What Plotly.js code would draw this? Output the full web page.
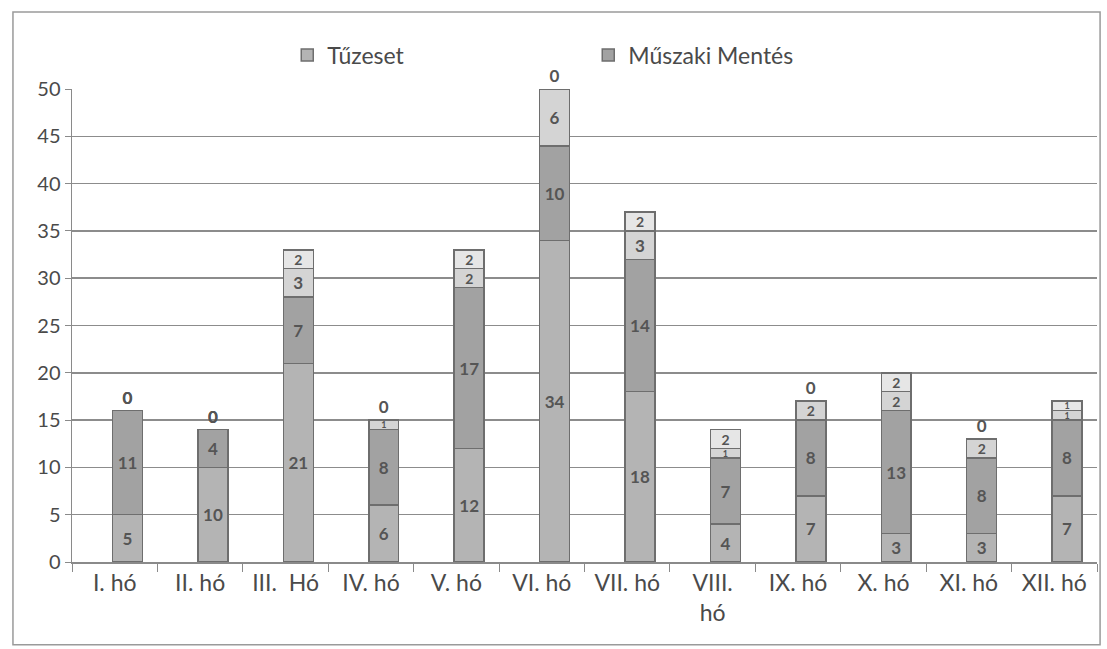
<!DOCTYPE html>
<html>
<head>
<meta charset="utf-8">
<script src="https://cdn.plot.ly/plotly-3.0.1.min.js"></script>
<style>html,body{margin:0;padding:0;background:#fff;}#chart{width:1107px;height:649px;}</style>
</head>
<body>
<div id="chart"></div>
<script>
var categories = ['I. hó','II. hó','III.  Hó','IV. hó','V. hó','VI. hó','VII. hó','VIII.<br>hó','IX. hó','X. hó','XI. hó','XII. hó'];
var tuzeset = [5,10,21,6,12,34,18,4,7,3,3,7];
var muszakiMentes = [11,4,7,8,17,10,14,7,8,13,8,8];
var sorozat3 = [0,0,3,1,2,6,3,1,2,2,2,1];
var sorozat4 = [0,0,2,0,2,0,2,2,0,2,0,1];
var yTicks = [0,5,10,15,20,25,30,35,40,45,50];

var txtColor = '#4a4a4a';
var fontFam = 'Lato, "Open Sans", sans-serif';

function mk(name, vals, fill, show) {
  return {
    type: 'bar', name: name, x: categories, y: vals,
    text: vals.map(String),
    textposition: vals.map(function(v){return v === 0 ? 'outside' : 'inside';}),
    insidetextanchor: 'middle',
    textangle: 0,
    constraintext: 'none',
    cliponaxis: false,
    textfont: {
      family: fontFam, color: '#555', weight: 'bold',
      size: vals.map(function(v){return v >= 3 || v === 0 ? 17 : (v === 2 ? 14 : 9);})
    },
    width: 0.35, offset: -0.025,
    marker: {color: fill, line: {color: '#6e6e6e', width: 1.5}},
    showlegend: show
  };
}

var data = [
  mk('Tűzeset', tuzeset, '#b4b4b4', true),
  mk('Műszaki Mentés', muszakiMentes, '#a2a2a2', true),
  mk('Sorozat 3', sorozat3, '#d4d4d4', false),
  mk('Sorozat 4', sorozat4, '#e6e6e6', false)
];

var layout = {
  width: 1107, height: 649,
  margin: {l: 72, r: 10, t: 89, b: 87},
  paper_bgcolor: '#fff', plot_bgcolor: '#fff',
  barmode: 'stack',
  font: {family: fontFam, size: 19, color: txtColor},
  xaxis: {
    type: 'category', showgrid: false,
    showline: true, linecolor: '#8a8a8a', linewidth: 1.5,
    ticks: 'outside', tickson: 'boundaries', ticklen: 8, tickcolor: '#8a8a8a',
    tickfont: {size: 23, color: txtColor}
  },
  yaxis: {
    range: [0, 50], tickvals: yTicks, ticktext: yTicks.map(String),
    showgrid: true, gridcolor: '#8c8c8c', gridwidth: 1.5,
    zeroline: false, showline: true, linecolor: '#8a8a8a', linewidth: 1.5,
    ticks: 'outside', ticklen: 6, tickcolor: '#8a8a8a',
    tickfont: {size: 20, color: txtColor}
  },
  legend: {
    orientation: 'h', traceorder: 'normal',
    x: 0.21, xanchor: 'left', y: 1.072, yanchor: 'middle',
    entrywidth: 256, entrywidthmode: 'pixels',
    font: {size: 23, color: txtColor}, bgcolor: 'rgba(0,0,0,0)'
  },
  shapes: [{
    type: 'rect', xref: 'paper', yref: 'paper',
    x0: -0.0576, x1: 1.003, y0: -0.175, y1: 1.163,
    line: {color: '#9a9a9a', width: 1.5}
  }]
};

Plotly.newPlot('chart', data, layout, {displayModeBar: false, staticPlot: true});
</script>
</body>
</html>
